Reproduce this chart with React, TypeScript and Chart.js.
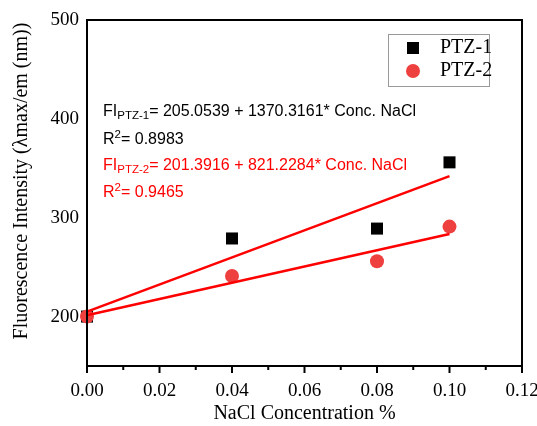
import React, { useEffect, useRef } from 'react';
import { Chart, registerables } from 'chart.js';

Chart.register(...registerables);

// ---- data ----
const concentrations = [0, 0.04, 0.08, 0.1];
const ptz1Values = [200, 279, 289, 356];
const ptz2Values = [200, 241, 256, 291];
const fitRange = [0, 0.1];
const ptz1Fit = { intercept: 205.0539, slope: 1370.3161, r2: '0.8983' };
const ptz2Fit = { intercept: 201.3916, slope: 821.2284, r2: '0.9465' };
const xTicks = [0, 0.02, 0.04, 0.06, 0.08, 0.1, 0.12];
const xMinorTicks = [0.01, 0.03, 0.05, 0.07, 0.09, 0.11];
const yTicks = [200, 300, 400, 500];
const seriesNames = ['PTZ-1', 'PTZ-2'];

const xTitle = 'NaCl Concentration %';
const yTitle = 'Fluorescence Intensity (\u03BBmax/em (nm))';

const SERIF = '"Liberation Serif", "Times New Roman", serif';
const SANS = '"Liberation Sans", Arial, sans-serif';
const RED_PT = 'rgb(239,64,64)';
const RED_LINE = '#ff0000';

const overlayPlugin = {
  id: 'overlay',
  afterDraw(chart: any) {
    const { ctx, chartArea } = chart;
    const { left, right, top, bottom } = chartArea;
    const xs = chart.scales.x;
    ctx.save();
    // frame
    ctx.strokeStyle = '#000';
    ctx.lineWidth = 2;
    ctx.strokeRect(left, top, right - left, bottom - top);
    // x ticks
    ctx.beginPath();
    xTicks.forEach((v) => {
      const px = xs.getPixelForValue(v);
      ctx.moveTo(px, bottom);
      ctx.lineTo(px, bottom + 7);
    });
    xMinorTicks.forEach((v) => {
      const px = xs.getPixelForValue(v);
      ctx.moveTo(px, bottom);
      ctx.lineTo(px, bottom + 4);
    });
    ctx.stroke();

    // y title
    ctx.save();
    ctx.translate(22, 181);
    ctx.rotate(-Math.PI / 2);
    ctx.fillStyle = '#000';
    ctx.font = `20px ${SERIF}`;
    ctx.textAlign = 'center';
    ctx.textBaseline = 'middle';
    ctx.fillText(yTitle, 0, 0);
    ctx.restore();

    // legend
    ctx.lineWidth = 1;
    ctx.strokeStyle = '#999';
    ctx.strokeRect(388.5, 34.5, 101, 52);
    ctx.fillStyle = '#000';
    ctx.fillRect(407, 42, 12, 12);
    ctx.fillStyle = RED_PT;
    ctx.beginPath();
    ctx.arc(413, 71, 7, 0, Math.PI * 2);
    ctx.fill();
    ctx.fillStyle = '#000';
    ctx.font = `20px ${SERIF}`;
    ctx.textAlign = 'left';
    ctx.textBaseline = 'middle';
    ctx.fillText(seriesNames[0], 440, 48);
    ctx.fillText(seriesNames[1], 440, 71);

    // annotations
    const drawEq = (name: string, fit: any, color: string, y1: number, y2: number) => {
      ctx.fillStyle = color;
      ctx.textBaseline = 'alphabetic';
      ctx.textAlign = 'left';
      let x = 103;
      ctx.font = `16px ${SANS}`;
      ctx.fillText('FI', x, y1);
      x += ctx.measureText('FI').width;
      ctx.font = `11.5px ${SANS}`;
      ctx.fillText(name, x, y1 + 3);
      x += ctx.measureText(name).width;
      ctx.font = `16px ${SANS}`;
      ctx.fillText(`= ${fit.intercept.toFixed(4)} + ${fit.slope.toFixed(4)}* Conc. NaCl`, x, y1);
      x = 103;
      ctx.fillText('R', x, y2);
      x += ctx.measureText('R').width;
      ctx.font = `11.5px ${SANS}`;
      ctx.fillText('2', x, y2 - 6.5);
      x += ctx.measureText('2').width;
      ctx.font = `16px ${SANS}`;
      ctx.fillText(`= ${fit.r2}`, x, y2);
    };
    drawEq('PTZ-1', ptz1Fit, '#000', 116, 144);
    drawEq('PTZ-2', ptz2Fit, RED_LINE, 170, 197);
    ctx.restore();
  },
};

export default function App() {
  const ref = useRef<HTMLCanvasElement | null>(null);
  useEffect(() => {
    document.body.style.margin = '0';
    const canvas = ref.current;
    if (!canvas) return;
    const fitLine = (f: any) => fitRange.map((x) => ({ x, y: f.intercept + f.slope * x }));
    const chart = new Chart(canvas, {
      type: 'scatter',
      data: {
        datasets: [
          {
            label: 'fit1',
            data: fitLine(ptz1Fit),
            showLine: true,
            borderColor: RED_LINE,
            borderWidth: 2.5,
            pointRadius: 0,
            order: 0,
            clip: false,
          } as any,
          {
            label: 'fit2',
            data: fitLine(ptz2Fit),
            showLine: true,
            borderColor: RED_LINE,
            borderWidth: 2.5,
            pointRadius: 0,
            order: 0,
            clip: false,
          },
          {
            label: seriesNames[1],
            data: concentrations.map((x, i) => ({ x, y: ptz2Values[i] })),
            pointStyle: 'circle',
            pointRadius: 7,
            backgroundColor: RED_PT,
            borderWidth: 0,
            order: 1,
            clip: false,
          },
          {
            label: seriesNames[0],
            data: concentrations.map((x, i) => ({ x, y: ptz1Values[i] })),
            pointStyle: 'rect',
            pointRadius: 8.5,
            backgroundColor: '#000',
            borderWidth: 0,
            order: 2,
            clip: false,
          },
        ],
      },
      options: {
        animation: false,
        responsive: false,
        layout: { padding: { top: 20, right: 15, left: 0, bottom: 0 } },
        plugins: { legend: { display: false }, tooltip: { enabled: false } },
        scales: {
          x: {
            type: 'linear',
            min: 0,
            max: 0.12,
            afterBuildTicks: (s: any) => {
              s.ticks = xTicks.map((v) => ({ value: v }));
            },
            afterFit: (s: any) => {
              s.height = 60;
              s.paddingLeft = 0;
              s.paddingRight = 0;
            },
            ticks: {
              callback: (v: any) => Number(v).toFixed(2),
              font: { family: SERIF, size: 19 },
              color: '#000',
              padding: 14,
              maxRotation: 0,
            },
            grid: { display: false, drawTicks: false, tickLength: 0 },
            border: { display: false },
            title: {
              display: true,
              text: xTitle,
              font: { family: SERIF, size: 20 },
              color: '#000',
              padding: { top: 4, bottom: 0 },
            },
          },
          y: {
            type: 'linear',
            min: 150,
            max: 500,
            afterBuildTicks: (s: any) => {
              s.ticks = yTicks.map((v) => ({ value: v }));
            },
            afterFit: (s: any) => {
              s.width = 87;
              s.paddingTop = 0;
              s.paddingBottom = 0;
            },
            ticks: {
              font: { family: SERIF, size: 19 },
              color: '#000',
              padding: 8,
            },
            grid: { display: false, drawTicks: false, tickLength: 0 },
            border: { display: false },
          },
        },
      },
      plugins: [overlayPlugin],
    } as any);
    return () => chart.destroy();
  }, []);
  return (
    <div style={{ width: 537, height: 426 }}>
      <canvas ref={ref} width={537} height={426} />
    </div>
  );
}
